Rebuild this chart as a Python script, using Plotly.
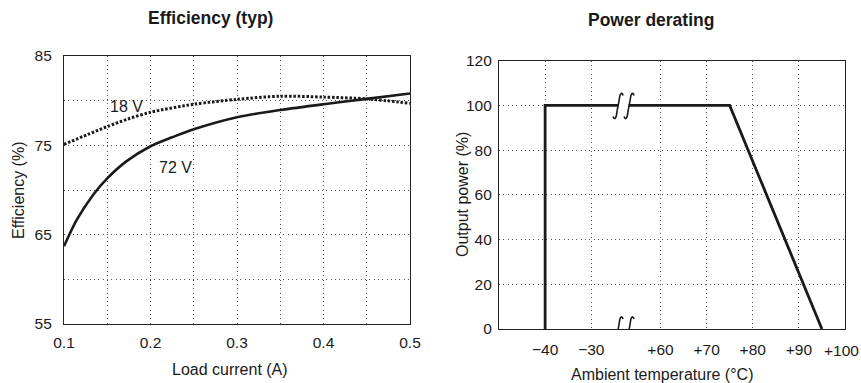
import plotly.graph_objects as go

# ---------------- Data ----------------
# Efficiency (typ)
x18 = [0.1, 0.127, 0.15, 0.174, 0.2, 0.25, 0.3, 0.35, 0.4, 0.45, 0.5]
eff18 = [75.1, 76.2, 77.1, 77.95, 78.7, 79.6, 80.15, 80.5, 80.4, 80.2, 79.7]

x72 = [0.1, 0.115, 0.134, 0.15, 0.172, 0.2, 0.225, 0.25, 0.3, 0.35, 0.4, 0.45, 0.5]
eff72 = [63.7, 66.7, 69.5, 71.3, 73.2, 74.9, 75.9, 76.8, 78.15, 78.95, 79.6, 80.2, 80.8]

eff_x_ticks = [0.1, 0.15, 0.2, 0.25, 0.3, 0.35, 0.4, 0.45, 0.5]
eff_x_labels = ["0.1", "", "0.2", "", "0.3", "", "0.4", "", "0.5"]
eff_y_ticks = [55, 60, 65, 70, 75, 80, 85]
eff_y_labels = ["55", "", "65", "", "75", "", "85"]

# Power derating
temp = [-40, -40, 75, 95]
power = [0, 100, 100, 0]
temp_ticks = [-40, -30, 60, 70, 80, 90, 100]
temp_labels = ["\u221240", "\u221230", "+60", "+70", "+80", "+90", "+100"]
power_ticks = [0, 20, 40, 60, 80, 100, 120]
power_labels = ["0", "20", "40", "60", "80", "100", "120"]

# broken axis: -50..-30 then +60..+100 (one unit = 10 degC)
def tpos(t):
    if t <= -30:
        return (t + 50) / 10.0
    return 3.5 + (t - 60) / 10.0

BREAK_POS = 2.7

FONT = "Liberation Sans, Arial, Helvetica, sans-serif"
INK = "#1a1a1a"
GRID = "#555555"
W, H = 861, 383

fig = go.Figure()

fig.add_trace(go.Scatter(x=x18, y=eff18, mode="lines",
                         line=dict(color=INK, width=3, dash="2.5px,1.8px", shape="spline", smoothing=0.8),
                         xaxis="x", yaxis="y", showlegend=False, hoverinfo="skip"))
fig.add_trace(go.Scatter(x=x72, y=eff72, mode="lines",
                         line=dict(color=INK, width=2.6, shape="spline", smoothing=0.8),
                         xaxis="x", yaxis="y", showlegend=False, hoverinfo="skip"))

fig.add_trace(go.Scatter(x=[tpos(t) for t in temp], y=power, mode="lines",
                         line=dict(color=INK, width=2.8), xaxis="x2", yaxis="y2",
                         showlegend=False, hoverinfo="skip", cliponaxis=False))

axis_common = dict(showline=True, mirror=True, linecolor="#222", linewidth=1.2,
                   showgrid=True, gridcolor=GRID, gridwidth=1, griddash="1px,3.3px",
                   ticks="", zeroline=False, tickfont=dict(family=FONT, size=15.5, color=INK),
                   fixedrange=True, automargin=False)

# last temperature label sits at the very right edge; draw it as an annotation so it is not clipped
temp_ticktext = temp_labels[:-1] + [""]

fig.update_layout(
    width=W, height=H,
    margin=dict(l=0, r=0, t=0, b=0, pad=0, autoexpand=False),
    paper_bgcolor="white", plot_bgcolor="white",
    font=dict(family=FONT, size=15.5, color=INK),
    xaxis=dict(domain=[64/W, 410/W], range=[0.1, 0.5], tickvals=eff_x_ticks, ticktext=eff_x_labels,
               anchor="y", ticklabelstandoff=4, **axis_common),
    yaxis=dict(domain=[1-324/H, 1-56/H], range=[55, 85], tickvals=eff_y_ticks, ticktext=eff_y_labels,
               anchor="x", ticklabelstandoff=8, **axis_common),
    xaxis2=dict(domain=[499/W, 845/W], range=[0, 7.5], tickvals=[tpos(t) for t in temp_ticks],
                ticktext=temp_ticktext, anchor="y2", ticklabelstandoff=6, **axis_common),
    yaxis2=dict(domain=[1-329/H, 1-60.7/H], range=[0, 120], tickvals=power_ticks, ticktext=power_labels,
                anchor="x2", ticklabelstandoff=3, **axis_common),
)

# break symbols at y=100 and y=0
shapes = []
for yv in [100, 0]:
    common = dict(xref="x2", yref="y2", xsizemode="pixel", ysizemode="pixel",
                  xanchor=BREAK_POS, yanchor=yv, layer="above")
    # white gap erasing the line
    shapes.append(dict(type="path", path="M -5,-3 L 5,-3 L 5,3 L -5,3 Z",
                       fillcolor="white", line=dict(width=0), **common))
    for dx in (-5.5, 5.5):
        p = ("M {a},-11 C {b},-15 {c},-13 {d},-7 C {e},-2 {f},1 {g},6 C {h},12 {i},14 {j},10"
             .format(a=dx-5, b=dx-3.5, c=dx-1.8, d=dx-1.2, e=dx-0.5, f=dx+0.5, g=dx+1.2, h=dx+1.8, i=dx+3.5, j=dx+5))
        shapes.append(dict(type="path", path=p, line=dict(color=INK, width=1.6), **common))
fig.update_layout(shapes=shapes)

def paper_text(text, cx, cy, size, angle=0):
    return dict(text=text, x=cx / W, y=1 - cy / H, xref="paper", yref="paper", showarrow=False,
                xanchor="center", yanchor="middle", textangle=angle,
                font=dict(family=FONT, size=size, color=INK))

annotations = [
    paper_text("<b>Efficiency (typ)</b>", 210, 18, 17.5),
    paper_text("<b>Power derating</b>", 651, 20, 17.5),
    paper_text("Load current (A)", 230, 369, 16),
    paper_text("Ambient temperature (\u00b0C)", 662, 374, 16),
    paper_text("Efficiency (%)", 18, 190, 16, -90),
    paper_text("Output power (%)", 462, 195, 16, -90),
    dict(text=temp_labels[-1], x=tpos(temp_ticks[-1]), y=0, xref="x2", yref="y2", showarrow=False,
         xanchor="center", yanchor="top", xshift=-4, yshift=-11,
         font=dict(family=FONT, size=15.5, color=INK)),
    dict(text="18 V", x=0.1509, y=79.4, xref="x", yref="y", showarrow=False, xanchor="left",
         yanchor="middle", font=dict(family=FONT, size=16, color=INK)),
    dict(text="72 V", x=0.2079, y=72.5, xref="x", yref="y", showarrow=False, xanchor="left",
         yanchor="middle", font=dict(family=FONT, size=16, color=INK)),
]
fig.update_layout(annotations=annotations)

fig.write_html("out.html")
